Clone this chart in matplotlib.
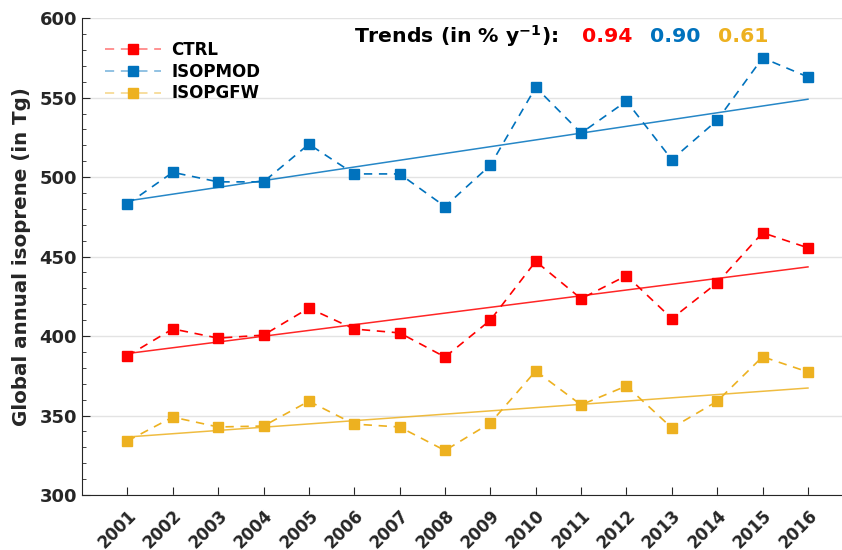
import numpy as np
import matplotlib.pyplot as plt
from matplotlib.lines import Line2D
from matplotlib.ticker import MultipleLocator

years = np.arange(2001, 2017)
ctrl = [387.5, 404.5, 398.7, 400.6, 417.6, 404.4, 402.0, 386.8,
        410.0, 447.0, 423.5, 438.0, 411.0, 433.5, 465.0, 455.5]
isopmod = [483.0, 503.0, 497.0, 497.0, 520.7, 502.0, 502.0, 481.5,
           507.5, 556.5, 527.7, 547.8, 511.0, 535.8, 575.0, 563.0]
isopgfw = [334.0, 349.0, 342.8, 343.4, 359.0, 344.6, 342.8, 328.0,
           345.3, 378.0, 356.7, 368.6, 342.2, 359.0, 387.0, 377.4]
series_names = ["CTRL", "ISOPMOD", "ISOPGFW"]
# trend line values at 2001 and 2016
trend_start = [389.0, 485.0, 336.5]
trend_end = [443.5, 549.0, 367.3]
trend_labels = ["0.94", "0.90", "0.61"]
colors = ["#FF0000", "#0072BD", "#EDB120"]

plt.rcParams['font.family'] = 'DejaVu Sans'
plt.rcParams['font.weight'] = 'bold'

fig = plt.figure(figsize=(8.42, 5.5), dpi=100)
ax = fig.add_axes([0.0974, 0.1, 0.9026, 0.867])

handles = []
for name, vals, c, t0, t1 in zip(series_names, [ctrl, isopmod, isopgfw],
                                 colors, trend_start, trend_end):
    ax.plot(years, vals, linestyle=(0, (5, 4)), color=c, lw=1.2,
            marker='s', markersize=7, markerfacecolor=c, markeredgecolor=c)
    ax.plot([years[0], years[-1]], [t0, t1], color=c, lw=1.1, alpha=0.85)
    # legend handle: faded dashed line with a solid marker on top
    ln = Line2D([], [], linestyle=(0.5, (6, 4)), color=c, lw=1.2, alpha=0.5)
    mk = Line2D([], [], linestyle='none', marker='s', markersize=7,
                markerfacecolor=c, markeredgecolor=c)
    handles.append((ln, mk))

ax.set_xlim(2000, 2016.75)
ax.set_ylim(300, 600)
ax.set_yticks(np.arange(300, 601, 50))
ax.yaxis.set_minor_locator(MultipleLocator(10))
ax.set_xticks(years)
ax.set_xticklabels([str(y) for y in years], rotation=45, ha='right',
                   rotation_mode='anchor', fontsize=12, fontweight='bold',
                   color='#262626')
for lab in ax.get_yticklabels():
    lab.set_fontsize(13)
    lab.set_fontweight('bold')
    lab.set_color('#262626')

ax.grid(axis='y', which='major', color='#e3e3e3', lw=1)
ax.set_axisbelow(True)
ax.spines['top'].set_visible(False)
ax.spines['right'].set_visible(False)
ax.spines['left'].set_color('#262626')
ax.spines['bottom'].set_color('#262626')
ax.tick_params(axis='both', which='major', direction='in', length=6,
               color='#262626')
ax.tick_params(axis='y', which='minor', direction='in', length=3,
               color='#262626')
ax.tick_params(axis='x', pad=8)

ax.set_ylabel('Global annual isoprene (in Tg)', fontsize=14.3,
              fontweight='bold', color='#262626', labelpad=6)

ax.legend(handles, series_names, loc='upper left',
          bbox_to_anchor=(0.03, 0.952), frameon=False,
          borderpad=0, borderaxespad=0,
          prop={'weight': 'bold', 'size': 12}, handlelength=3.4,
          handletextpad=0.6, labelspacing=0.22)

ax.text(0.358, 0.962, 'Trends (in % y$^{\\mathbf{-1}}$):',
        transform=ax.transAxes, fontsize=14.7, fontweight='bold',
        color='black', va='center')
for i, (t, c) in enumerate(zip(trend_labels, colors)):
    ax.text(0.658 + i * 0.0894, 0.962, t, transform=ax.transAxes,
            fontsize=14.7, fontweight='bold', color=c, va='center')

fig.savefig('out.png', dpi=100)
